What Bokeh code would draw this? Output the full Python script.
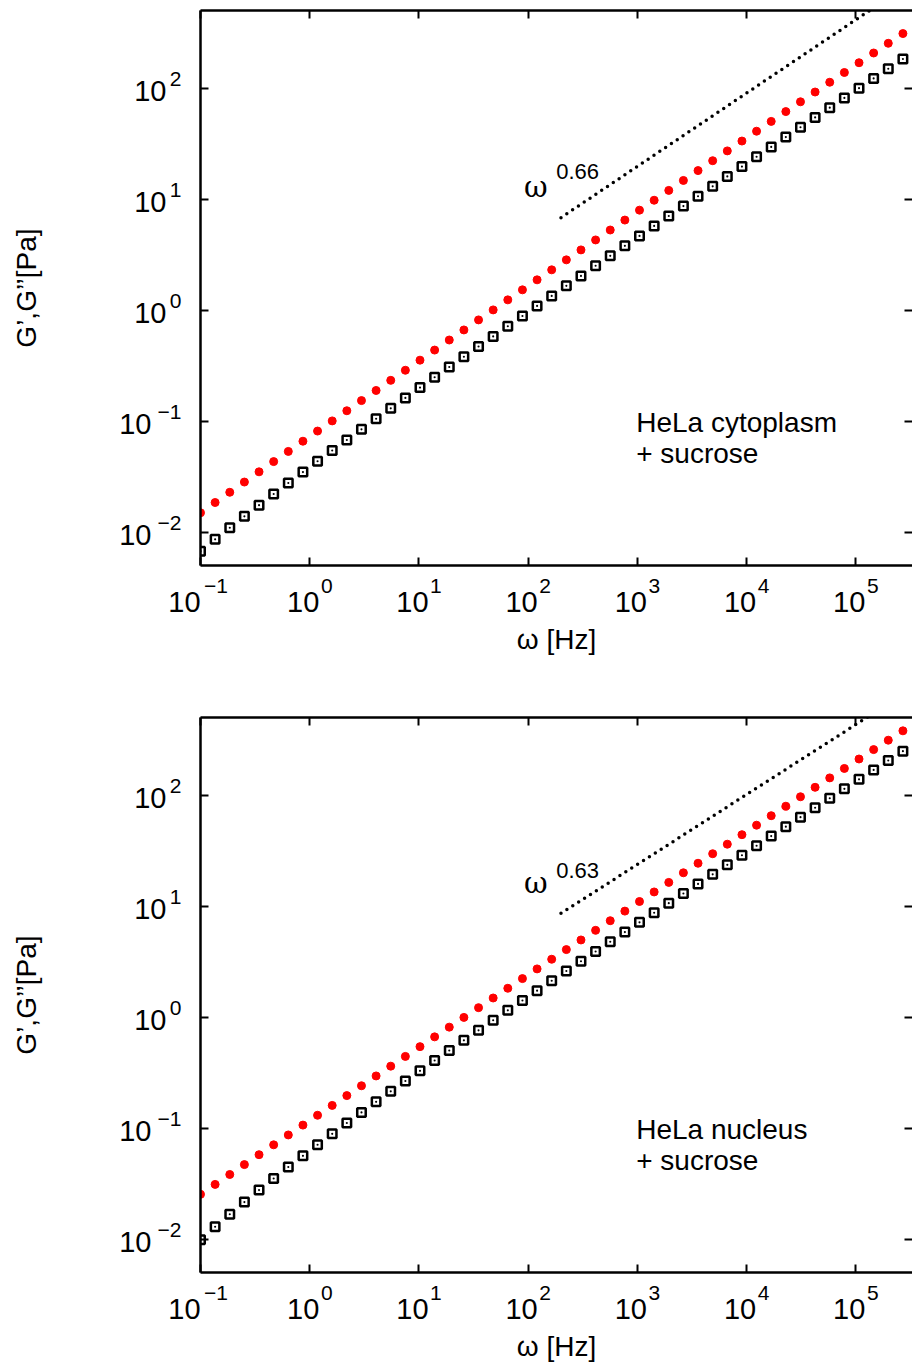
from bokeh.plotting import figure
from bokeh.models import FixedTicker, LogAxis, Label, Range1d
from bokeh.layouts import column
from bokeh.embed import file_html
from bokeh.resources import INLINE

# ---------------- data ----------------
omega = [0.1, 0.1361, 0.1854, 0.2523, 0.3436, 0.4677, 0.6368, 0.867, 1.180, 1.607,
         2.188, 2.979, 4.055, 5.521, 7.516, 10.23, 13.93, 18.97, 25.82, 35.16,
         47.86, 65.16, 88.72, 120.8, 164.4, 223.9, 304.8, 414.9, 564.9, 769.1,
         1047, 1426, 1941, 2642, 3597, 4898, 6668, 9078, 12360, 16830,
         22910, 31190, 42460, 57810, 78700, 107200, 145900, 198600, 270400, 368100]

# HeLa cytoplasm + sucrose
cyto_G2 = [0.01493, 0.01847, 0.02284, 0.02824, 0.03491, 0.04315, 0.05330, 0.06586, 0.08133, 0.1004,
           0.1239, 0.1530, 0.1887, 0.2328, 0.2870, 0.3539, 0.4363, 0.5376, 0.6623, 0.8157,
           1.004, 1.236, 1.522, 1.873, 2.305, 2.834, 3.485, 4.284, 5.266, 6.470,
           7.949, 9.764, 11.98, 14.72, 18.06, 22.17, 27.18, 33.34, 40.88, 50.12,
           61.42, 75.25, 92.18, 112.9, 138.2, 169.2, 207.1, 253.3, 309.9, 379.0]
cyto_G1 = [0.006731, 0.008602, 0.01093, 0.01386, 0.01749, 0.02203, 0.02771, 0.03472, 0.04348, 0.05431,
           0.06763, 0.08426, 0.1049, 0.1303, 0.1618, 0.2003, 0.2482, 0.3072, 0.3802, 0.4694,
           0.5794, 0.7146, 0.8839, 1.091, 1.342, 1.653, 2.033, 2.506, 3.080, 3.792,
           4.659, 5.736, 7.040, 8.647, 10.61, 13.02, 16.01, 19.62, 24.07, 29.51,
           36.16, 44.41, 54.41, 66.61, 81.55, 99.87, 122.2, 149.5, 182.9, 223.7]

# HeLa nucleus + sucrose
nuc_G2 = [0.02530, 0.03109, 0.03819, 0.04689, 0.05758, 0.07068, 0.08674, 0.1064, 0.1305, 0.1601,
          0.1962, 0.2406, 0.2949, 0.3613, 0.4424, 0.5418, 0.6634, 0.8119, 0.9936, 1.216,
          1.486, 1.818, 2.222, 2.717, 3.320, 4.055, 4.953, 6.047, 7.383, 9.010,
          11.00, 13.41, 16.35, 19.95, 24.31, 29.63, 36.10, 43.97, 53.55, 65.21,
          79.38, 96.60, 117.5, 142.9, 173.8, 211.4, 256.9, 312.3, 379.3, 460.7]
nuc_G1 = [0.009887, 0.01290, 0.01674, 0.02154, 0.02763, 0.03517, 0.04458, 0.05622, 0.07074, 0.08879,
          0.1111, 0.1384, 0.1724, 0.2142, 0.2654, 0.3280, 0.4063, 0.5006, 0.6169, 0.7600,
          0.9357, 1.150, 1.412, 1.730, 2.124, 2.600, 3.183, 3.896, 4.767, 5.830,
          7.134, 8.698, 10.63, 12.97, 15.84, 19.31, 23.53, 28.72, 34.98, 42.69,
          51.96, 63.23, 76.90, 93.57, 113.8, 138.7, 168.6, 204.9, 248.9, 302.2]

# power-law guide lines
guide_x = [200, 400000]
cyto_guide_y = [6.8, 1030]
nuc_guide_y = [8.6, 1034]
cyto_exponent = "0.66"
nuc_exponent = "0.63"

x_ticks = [0.1, 1, 10, 100, 1000, 10000, 100000]
x_tick_exponents = ["−1", "0", "1", "2", "3", "4", "5"]
y_ticks = [0.01, 0.1, 1, 10, 100]
y_tick_exponents = ["−2", "−1", "0", "1", "2"]
tick_base = "10"

x_label = "ω [Hz]"
y_label = "G’,G’’[Pa]"

FONT = "Liberation Sans"
X_MIN, X_MAX = 0.1, 3.31e5
Y_MIN, Y_MAX = 0.005, 500
PX_DEC_X = 109.1          # screen pixels per decade, x
PX_DEC_Y = 111.1          # screen pixels per decade, y
NBSP4 = "\u00a0" * 4      # keeps "10" left of a tick sitting on the frame edge


def shift_x(v, px):
    return v * 10 ** (px / PX_DEC_X)


def shift_y(v, px):
    return v * 10 ** (px / PX_DEC_Y)


def style_tick_axis(ax, ticks, show_line):
    ax.ticker = FixedTicker(ticks=ticks)
    ax.major_tick_in = 8
    ax.major_tick_out = 0
    ax.major_tick_line_width = 2
    ax.major_tick_line_color = "black"
    ax.minor_tick_line_color = None
    ax.axis_line_width = 2.5
    ax.axis_line_color = "black" if show_line else None
    ax.major_label_text_font_size = "1px"
    ax.major_label_standoff = 0
    ax.major_label_text_color = None


def label_axis(ticks, texts, size, standoff):
    ax = LogAxis(ticker=FixedTicker(ticks=ticks))
    ax.major_label_overrides = dict(zip(ticks, texts))
    ax.major_label_text_font = FONT
    ax.major_label_text_font_size = size
    ax.major_label_text_color = "black"
    ax.major_label_standoff = standoff
    ax.axis_line_color = None
    ax.major_tick_line_color = None
    ax.minor_tick_line_color = None
    ax.major_tick_in = 0
    ax.major_tick_out = 0
    ax.axis_label_text_font = FONT
    ax.axis_label_text_font_size = "28px"
    ax.axis_label_text_font_style = "normal"
    ax.axis_label_text_color = "black"
    return ax


def add_text(p, x, y, text, size, font=FONT):
    p.add_layout(Label(x=x, y=y, text=text, text_font=font,
                       text_font_size=size, text_baseline="alphabetic",
                       text_align="left", text_color="black"))


def make_panel(G2, G1, guide_y, exponent, line1, line2, height, top, bottom,
               om_y, exp_y):
    p = figure(width=912, height=height, x_axis_type="log", y_axis_type="log",
               x_range=Range1d(X_MIN, X_MAX), y_range=Range1d(Y_MIN, Y_MAX),
               output_backend="svg", toolbar_location=None,
               min_border_left=200, min_border_right=0,
               min_border_top=top, min_border_bottom=bottom)
    p.outline_line_color = None
    p.grid.visible = False
    p.background_fill_color = "white"
    p.border_fill_color = "white"

    # frame axes carrying the inward tick marks
    style_tick_axis(p.xaxis[0], x_ticks, True)
    style_tick_axis(p.yaxis[0], y_ticks, True)
    top_ax = LogAxis()
    style_tick_axis(top_ax, x_ticks, True)
    p.add_layout(top_ax, "above")
    right_ax = LogAxis()
    style_tick_axis(right_ax, y_ticks, False)
    p.add_layout(right_ax, "right")

    # x tick labels: exponent row, then "10" row (pulled up beside it)
    x_neg = [e.startswith("−") for e in x_tick_exponents]
    x_exp_pos = [shift_x(t, 15.5 if n else 17) for t, n in zip(x_ticks, x_neg)]
    x_base_pos = [t if n else shift_x(t, -6.5) for t, n in zip(x_ticks, x_neg)]
    x_base_txt = [tick_base + NBSP4 if n else tick_base for n in x_neg]
    ax_e = label_axis(x_exp_pos, x_tick_exponents, "21px", 13)
    p.add_layout(ax_e, "below")
    ax_b = label_axis(x_base_pos, x_base_txt, "29px", -10)
    ax_b.axis_label = x_label
    ax_b.axis_label_standoff = 3
    p.add_layout(ax_b, "below")

    # y tick labels: exponent column, "10" for positive, "10" for negative
    y_exp_pos = [shift_y(t, 9.5) for t in y_ticks]
    ay_e = label_axis(y_exp_pos, y_tick_exponents, "21px", 19)
    p.add_layout(ay_e, "left")
    pos_t = [shift_y(t, -2.5) for t, e in zip(y_ticks, y_tick_exponents)
             if not e.startswith("−")]
    neg_t = [shift_y(t, -2.5) for t, e in zip(y_ticks, y_tick_exponents)
             if e.startswith("−")]
    ay_p = label_axis(pos_t, [tick_base] * len(pos_t), "29px", -12)
    p.add_layout(ay_p, "left")
    ay_n = label_axis(neg_t, [tick_base] * len(neg_t), "29px", -20)
    ay_n.axis_label = y_label
    ay_n.axis_label_standoff = 74
    p.add_layout(ay_n, "left")

    p.line(guide_x, guide_y, line_color="black", line_width=3.5,
           line_dash="0 7", line_cap="round")
    p.scatter(omega, G2, marker="circle", size=8,
              fill_color="red", line_color="red")
    p.scatter(omega, G1, marker="square_dot", size=8.5, line_width=2.5,
              line_color="black", fill_color="white")

    add_text(p, 91.8, om_y, "ω", "29px", font="DejaVu Serif")
    add_text(p, 180.6, exp_y, exponent, "22px")
    add_text(p, 977, 0.0977, line1, "28px")
    add_text(p, 977, 0.0512, line2, "28px")
    return p


p1 = make_panel(cyto_G2, cyto_G1, cyto_guide_y, cyto_exponent,
                "HeLa cytoplasm", "+ sucrose", 680, 10, 115, 12.93, 17.72)
p2 = make_panel(nuc_G2, nuc_G1, nuc_guide_y, nuc_exponent,
                "HeLa nucleus", "+ sucrose", 686, 37, 94, 16.14, 21.1)

layout = column(p1, p2)
open("out.html", "w").write(file_html(layout, INLINE))
